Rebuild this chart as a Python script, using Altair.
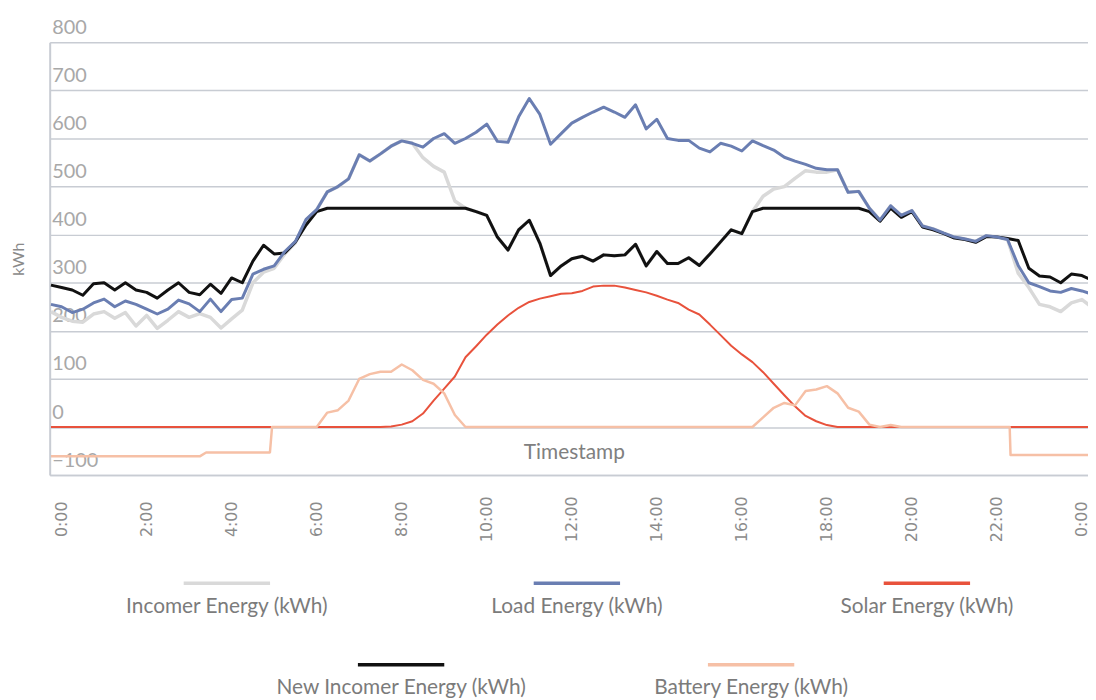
import altair as alt
import pandas as pd

# ---- data (15-minute steps from -0:15 to 24:15) ----
HOURS = [k * 0.25 for k in range(-1, 98)]

LOAD = [255, 250, 238, 245, 258, 266, 250, 262, 255, 245,
        235, 245, 264, 256, 240, 266, 240, 265, 268, 318,
        328, 335, 365, 386, 432, 452, 489, 500, 516, 566,
        553, 568, 584, 595, 590, 582, 600, 610, 590, 600,
        613, 630, 594, 592, 645, 683, 650, 588, 610, 632,
        644, 655, 665, 655, 644, 670, 620, 640, 600, 596,
        596, 580, 572, 590, 584, 574, 595, 585, 576, 561,
        553, 546, 538, 535, 535, 488, 490, 455, 430, 460,
        440, 450, 418, 412, 403, 395, 391, 386, 398, 395,
        390, 336, 300, 292, 283, 280, 288, 283, 276]

INCOMER = [240, 228, 220, 218, 235, 240, 226, 238, 210, 232,
           205, 222, 240, 228, 236, 228, 206, 225, 243, 300,
           322, 330, 360, 383, 430, 452, 489, 500, 516, 566,
           553, 568, 584, 595, 590, 560, 542, 530, 470, 455,
           448, 440, 395, 368, 410, 430, 382, 315, 335, 350,
           355, 345, 358, 356, 358, 380, 335, 365, 340, 340,
           352, 336, 360, 385, 410, 402, 448, 480, 495, 500,
           517, 533, 530, 530, 535, 488, 490, 455, 430, 460,
           440, 450, 418, 412, 403, 395, 391, 386, 398, 395,
           390, 320, 290, 255, 250, 240, 258, 265, 248]

NEW_INCOMER = [295, 290, 285, 274, 298, 300, 285, 300, 285, 280,
               268, 285, 300, 280, 275, 297, 278, 310, 300, 345,
               378, 360, 362, 385, 420, 448, 455, 455, 455, 455,
               455, 455, 455, 455, 455, 455, 455, 455, 455, 455,
               448, 440, 395, 368, 410, 430, 382, 315, 335, 350,
               355, 345, 358, 356, 358, 380, 335, 365, 340, 340,
               352, 336, 360, 385, 410, 402, 448, 455, 455, 455,
               455, 455, 455, 455, 455, 455, 455, 448, 428, 455,
               436, 448, 416, 410, 402, 393, 390, 384, 396, 395,
               392, 388, 330, 314, 312, 300, 318, 315, 305]

SOLAR = [0, 0, 0, 0, 0, 0, 0, 0, 0, 0,
         0, 0, 0, 0, 0, 0, 0, 0, 0, 0,
         0, 0, 0, 0, 0, 0, 0, 0, 0, 0,
         0, 0, 1, 5, 12, 28, 55, 80, 105, 145,
         168, 192, 213, 232, 248, 260, 267, 272, 277, 278,
         283, 292, 294, 294, 290, 285, 280, 273, 265, 258,
         244, 234, 213, 191, 169, 151, 135, 114, 90, 66,
         43, 23, 12, 4, 0, 0, 0, 0, 0, 0,
         0, 0, 0, 0, 0, 0, 0, 0, 0, 0,
         0, 0, 0, 0, 0, 0, 0, 0, 0]

BATTERY_HOURS = [-0.25, 3.25, 3.4, 4.9, 4.95, 6.0, 6.25, 6.5, 6.75, 7.0,
                 7.25, 7.5, 7.75, 8.0, 8.25, 8.5, 8.75, 9.0, 9.25, 9.5,
                 16.25, 16.5, 16.75, 17.0, 17.25, 17.5, 17.75, 18.0, 18.25, 18.5,
                 18.75, 19.0, 19.25, 19.5, 19.75, 22.3, 22.32, 24.25]
BATTERY = [-61, -61, -53, -53, 0, 0, 30, 35, 55, 100,
           110, 115, 115, 130, 118, 98, 90, 70, 25, 0,
           0, 20, 40, 50, 45, 75, 78, 85, 70, 40,
           32, 5, 0, 4, 0, 0, -58, -58]

SERIES = ["Incomer Energy (kWh)", "Load Energy (kWh)", "Solar Energy (kWh)",
          "New Incomer Energy (kWh)", "Battery Energy (kWh)"]
COLORS = ["#d9d9d9", "#6a7eb2", "#e8523c", "#111111", "#f6c0a6"]
X_TICKS = [0, 2, 4, 6, 8, 10, 12, 14, 16, 18, 20, 22, 24]
Y_TICKS = [-100, 0, 100, 200, 300, 400, 500, 600, 700, 800]

# ---- long table ----
rows = []
for name, vals in [(SERIES[0], INCOMER), (SERIES[1], LOAD), (SERIES[2], SOLAR),
                   (SERIES[3], NEW_INCOMER)]:
    for t, v in zip(HOURS, vals):
        rows.append({"t": t, "v": v, "series": name})
for t, v in zip(BATTERY_HOURS, BATTERY):
    rows.append({"t": t, "v": v, "series": SERIES[4]})
df = pd.DataFrame(rows)

GRID = "#c8ccd3"
x_enc = alt.X(
    "t:Q",
    scale=alt.Scale(domain=[-0.28, 24.142], nice=False, zero=False),
    axis=alt.Axis(
        values=X_TICKS, labelExpr="(datum.value % 24) + ':00'", grid=False,
        domain=True, domainColor=GRID, domainWidth=1.5, ticks=False,
        labelAngle=270, labelAlign="center", labelBaseline="middle", labelPadding=44,
        labelFont="DejaVu Sans", labelFontSize=16, labelColor="#8c8c8c",
        labelFlush=False, labelOverlap=False,
        title="Timestamp", titleX=528, titleY=-23, titleAngle=0,
        titleBaseline="middle", titleAlign="center", titleFont="Lato",
        titleFontSize=21, titleColor="#808080", titleFontWeight="normal",
    ),
)
y_enc = alt.Y(
    "v:Q",
    scale=alt.Scale(domain=[-100, 800], nice=False, zero=False),
    axis=alt.Axis(
        values=Y_TICKS, grid=True, gridColor=GRID, gridWidth=1.5,
        domain=True, domainColor=GRID, domainWidth=2, ticks=False,
        labelAlign="left", labelBaseline="alphabetic", labelPadding=-2, labelOffset=-9,
        labelFlush=False, labelOverlap=False, labelFont="Lato", labelFontSize=20,
        labelColor="#a8a8a8",
        title="kWh", titleX=-31, titleY=218, titleAngle=270, titleBaseline="middle",
        titleAlign="center", titleFont="Lato", titleFontSize=16, titleColor="#8a8a8a",
        titleFontWeight="normal",
    ),
)

# legend key: a horizontal stroke lifted above the label, with wide invisible extents
SYMBOL = "M-3.2,-0.30M-1,-0.30H1M3.2,-0.30"


def make_legend(lx, ly, ncol):
    return alt.Legend(
        orient="none", legendX=lx, legendY=ly, direction="horizontal", columns=ncol,
        title=None, symbolType=SYMBOL, symbolSize=7569, symbolStrokeWidth=3.5,
        symbolOffset=0, labelAlign="center", labelBaseline="top",
        labelOffset={"expr": "-45.5"},
        labelFont="Lato", labelFontSize=21, labelColor="#7b7b7b", labelLimit=400,
        columnPadding=59.6, rowPadding=0, padding=0,
    )


scale_a = alt.Scale(domain=SERIES[:3], range=COLORS[:3])
scale_b = alt.Scale(domain=SERIES[3:], range=COLORS[3:])
leg_a = make_legend(133, 512.25, 3)
leg_b = make_legend(308.5, 594.25, 2)

WIDTHS = {SERIES[0]: 3.5, SERIES[1]: 3, SERIES[2]: 2, SERIES[3]: 3, SERIES[4]: 2.5}


def layer_for(name, group_a):
    base = alt.Chart().mark_line(strokeWidth=WIDTHS[name], clip=True, strokeJoin="round")
    base = base.transform_filter(alt.FieldEqualPredicate(field="series", equal=name))
    if group_a:
        return base.encode(x=x_enc, y=y_enc,
                           stroke=alt.Stroke("series:N", scale=scale_a, legend=leg_a))
    return base.encode(x=x_enc, y=y_enc,
                       color=alt.Color("series:N", scale=scale_b, legend=leg_b))


chart = alt.layer(
    layer_for(SERIES[0], True),
    layer_for(SERIES[3], False),
    layer_for(SERIES[1], True),
    layer_for(SERIES[2], True),
    layer_for(SERIES[4], False),
    data=df,
).properties(
    width=1046, height=436,
    autosize=alt.AutoSizeParams(type="none"),
    padding={"left": 42, "top": 32, "right": 0, "bottom": 224},
    background="white",
).configure_view(strokeWidth=0)

chart.save("out.html", embed_options={"renderer": "svg", "actions": False})
